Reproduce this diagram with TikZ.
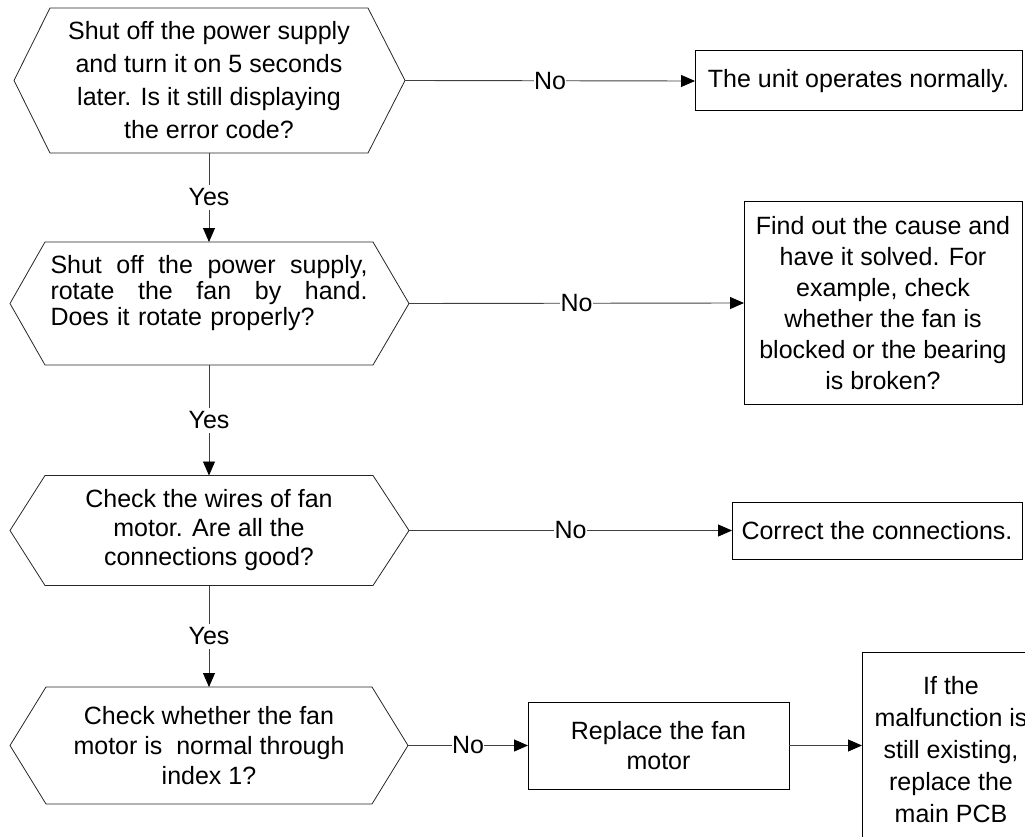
\documentclass[tikz,border=0pt]{standalone}
\usepackage{fontspec}
\setmainfont{Liberation Sans}
\usetikzlibrary{arrows.meta}
\begin{document}
\begin{tikzpicture}[x=1pt,y=-1pt,
  every node/.style={inner sep=0pt, outer sep=0pt},
  body/.style={font=\fontsize{25}{#1}\selectfont, align=center},
  body/.default=29,
  box/.style={draw=black, line width=1pt},
  hexline/.style={draw=black!85, line width=0.8pt, line join=miter},
  conn/.style={draw=black!75, line width=0.9pt},
  arr/.style={conn, -{Triangle[length=14pt,width=12pt,color=black,fill=black]}},
  lbl/.style={fill=white, font=\fontsize{25}{29}\selectfont, inner xsep=0.5pt, inner ysep=4pt}
]
\useasboundingbox (0,0) rectangle (1025,837);
\clip (0,0) rectangle (1025,837);

% ---------- decision 1 ----------
\node[body=33, minimum width=318pt, minimum height=145pt] (h1) at (209,80.5)
  {Shut off the power supply\\and turn it on 5 seconds\\later. Is it still displaying\\the error code?};
\coordinate (h1l) at (14,80.5);
\coordinate (h1r) at (405,80.5);
\draw[hexline] (h1.north west) -- (h1.north east) -- (h1r) -- (h1.south east) -- (h1.south west) -- (h1l) -- cycle;

% ---------- decision 2 ----------
\node[font=\fontsize{25}{26}\selectfont, align=left, text width=317pt, minimum width=328pt, minimum height=123pt] (h2) at (209,303.5)
  {\makebox[317pt][l]{Shut\hfill off\hfill the\hfill power\hfill supply,}\\\makebox[317pt][l]{rotate\hfill the\hfill fan\hfill by\hfill hand.}\\Does it rotate properly?\\\mbox{}};
\coordinate (h2l) at (10,303.5);
\coordinate (h2r) at (409,303.5);
\draw[hexline] (h2.north west) -- (h2.north east) -- (h2r) -- (h2.south east) -- (h2.south west) -- (h2l) -- cycle;

% ---------- decision 3 ----------
\node[body=29, minimum width=328pt, minimum height=110pt] (h3) at (209,530.5)
  {Check the wires of fan\\motor. Are all the\\connections good?};
\coordinate (h3l) at (10,530.5);
\coordinate (h3r) at (409,530.5);
\draw[hexline] (h3.north west) -- (h3.north east) -- (h3r) -- (h3.south east) -- (h3.south west) -- (h3l) -- cycle;

% ---------- decision 4 ----------
\node[body=30, minimum width=326pt, minimum height=117pt] (h4) at (209,745.5)
  {Check whether the fan\\motor is\ \ normal through\\index 1?};
\coordinate (h4l) at (10,745.5);
\coordinate (h4r) at (408,745.5);
\draw[hexline] (h4.north west) -- (h4.north east) -- (h4r) -- (h4.south east) -- (h4.south west) -- (h4l) -- cycle;

% ---------- result boxes ----------
\node[box, body, minimum width=327pt, minimum height=60pt] (b1) at (858.5,81)
  {The unit operates normally.};
\node[box, body=31, minimum width=278pt, minimum height=202pt] (b2) at (883,303)
  {Find out the cause and\\have it solved. For\\example, check\\whether the fan is\\blocked or the bearing\\is broken?};
\node[box, body, minimum width=290pt, minimum height=57pt] (b3) at (877,530.5)
  {Correct the connections.};
\node[box, body=30, minimum width=261pt, minimum height=87pt] (b4) at (658.5,745.5)
  {Replace the fan\\motor};
\node[box, body=32, minimum width=178pt, minimum height=196pt] (b5) at (951,750)
  {If the\\malfunction is\\still existing,\\replace the\\main PCB};

% ---------- connectors ----------
\draw[arr] (h1.south) -- node[lbl]{Yes} (h2.north);
\draw[arr] (h2.south) -- node[lbl]{Yes} (h3.north);
\draw[arr] (h3.south) -- node[lbl]{Yes} (h4.north);

\draw[arr] (h1r) -- node[lbl]{No} (b1.west);
\draw[arr] (h2r) -- node[lbl]{No} (b2.west);
\draw[arr] (h3r) -- node[lbl]{No} (b3.west);
\draw[arr] (h4r) -- node[lbl]{No} (b4.west);
\draw[arr] (b4.east) -- (b5.west |- b4.east);
\end{tikzpicture}
\end{document}
